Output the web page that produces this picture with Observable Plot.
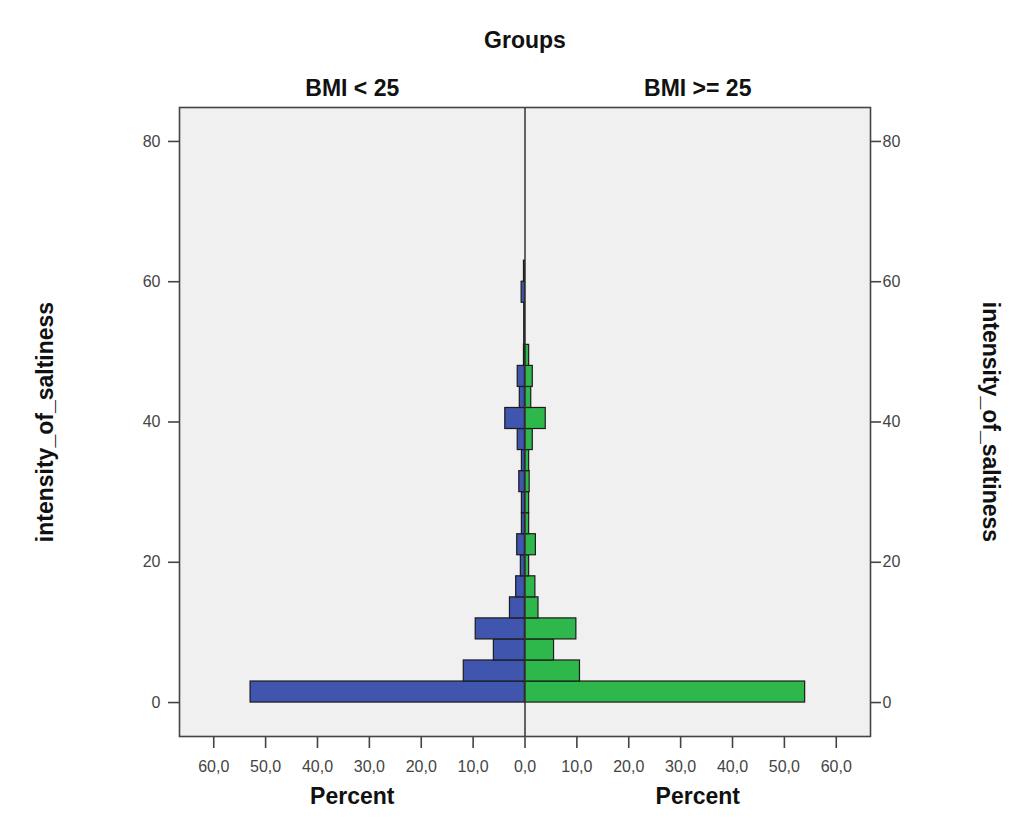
<!DOCTYPE html>
<html>
<head>
<meta charset="utf-8">
<script src="https://cdn.jsdelivr.net/npm/d3@7"></script>
<script src="https://cdn.jsdelivr.net/npm/@observablehq/plot@0.6"></script>
<style>
  html, body { margin: 0; padding: 0; background: #fff; }
  #chart { width: 1036px; height: 831px; }
  #chart svg { display: block; font-family: "Liberation Sans", Arial, sans-serif; }
</style>
</head>
<body>
<div id="chart"></div>
<script>
// Bin lower edges of intensity_of_saltiness (bin width 3)
const binStart = [0, 3, 6, 9, 12, 15, 18, 21, 24, 27, 30, 33, 36, 39, 42, 45, 48, 51, 54, 57, 60];
const binWidth = 3;
// Percent per bin, group BMI < 25
const bmiUnder25 = [52.9, 11.8, 6.0, 9.5, 2.9, 1.7, 0.8, 1.5, 0.6, 0.6, 1.1, 0.6, 1.4, 3.8, 1.0, 1.4, 0.2, 0.15, 0.15, 0.65, 0.2];
// Percent per bin, group BMI >= 25
const bmi25Over = [54.0, 10.6, 5.6, 9.9, 2.6, 2.0, 0.8, 2.1, 0.8, 0.8, 0.9, 0.8, 1.5, 4.0, 1.2, 1.5, 0.8, 0, 0, 0, 0];

const groupLabels = ["BMI < 25", "BMI >= 25"];
const groupTitle = "Groups";
const xTitle = "Percent";
const yTitle = "intensity_of_saltiness";
const xTicks = [-60, -50, -40, -30, -20, -10, 0, 10, 20, 30, 40, 50, 60];
const yTicks = [0, 20, 40, 60, 80];

const rows = binStart.map((b, i) => ({y1: b, y2: b + binWidth, low: bmiUnder25[i], high: bmi25Over[i]}));
const fmt = d => Math.abs(d).toFixed(1).replace(".", ",");
const side = i => i === 0 ? -33.3 : 33.3;

const chart = Plot.plot({
  width: 1036,
  height: 831,
  marginLeft: 179,
  marginRight: 166,
  marginTop: 107,
  marginBottom: 95,
  style: {fontFamily: "Liberation Sans, Arial, sans-serif", background: "#fff"},
  x: {domain: [-66.6, 66.6]},
  y: {domain: [-4.84, 84.84]},
  marks: [
    Plot.frame({fill: "#f0f0f0", stroke: null}),
    Plot.rectX(rows, {x1: d => -d.low, x2: 0, y1: "y1", y2: "y2", fill: "#3F55AE", stroke: "#1c1c1c", strokeWidth: 1.2}),
    Plot.rectX(rows, {x1: 0, x2: d => d.high, y1: "y1", y2: "y2", fill: "#2EB84B", stroke: "#1c1c1c", strokeWidth: 1.2}),
    Plot.ruleX([0], {stroke: "#333", strokeWidth: 1.5}),
    Plot.frame({stroke: "#444", strokeWidth: 1.6}),
    Plot.axisX({anchor: "bottom", ticks: xTicks, tickFormat: fmt, tickSize: 12, tickPadding: 12, label: null, fontSize: 16, color: "#444", strokeWidth: 1.6}),
    Plot.axisY({anchor: "left", ticks: yTicks, tickSize: 11, tickPadding: 8, label: null, fontSize: 16, color: "#444", strokeWidth: 1.6}),
    Plot.axisY({anchor: "right", ticks: yTicks, tickSize: 10, tickPadding: 2, label: null, fontSize: 16, color: "#444", strokeWidth: 1.6}),
    Plot.text(groupLabels, {x: (d, i) => side(i), text: d => d, frameAnchor: "top", lineAnchor: "middle", dy: -19, fontSize: 23, fontWeight: "bold", fill: "#111"}),
    Plot.text([groupTitle], {x: 0, text: d => d, frameAnchor: "top", lineAnchor: "middle", dy: -67, fontSize: 23, fontWeight: "bold", fill: "#111"}),
    Plot.text([xTitle, xTitle], {x: (d, i) => side(i), text: d => d, frameAnchor: "bottom", lineAnchor: "middle", dy: 60, fontSize: 23, fontWeight: "bold", fill: "#111"}),
    Plot.text([yTitle], {text: d => d, frameAnchor: "left", textAnchor: "middle", lineAnchor: "middle", dx: -134, rotate: -90, fontSize: 23, fontWeight: "bold", fill: "#111"}),
    Plot.text([yTitle], {text: d => d, frameAnchor: "right", textAnchor: "middle", lineAnchor: "middle", dx: 120, rotate: 90, fontSize: 23, fontWeight: "bold", fill: "#111"})
  ]
});
document.getElementById("chart").appendChild(chart);
</script>
</body>
</html>
